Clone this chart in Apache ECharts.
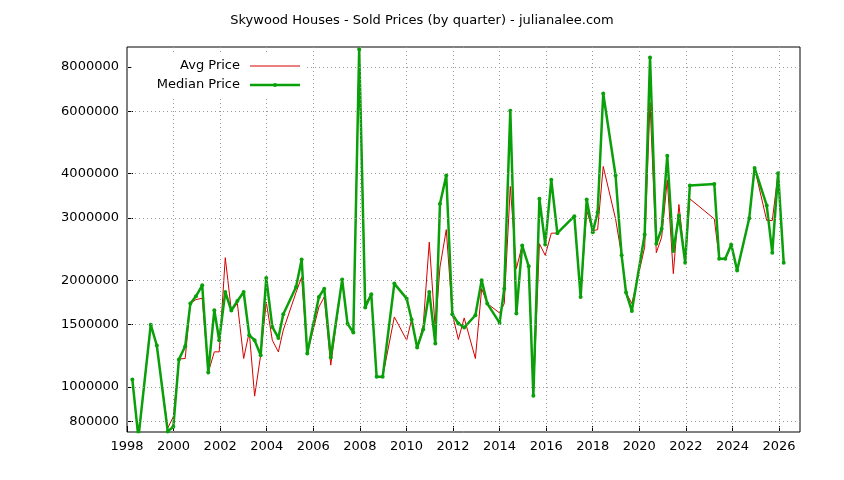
<!DOCTYPE html>
<html><head><meta charset="utf-8">
<script src="https://cdn.jsdelivr.net/npm/echarts@6/dist/echarts.min.js"></script>
<style>html,body{margin:0;padding:0;background:#fff}#c{width:844px;height:480px}</style>
</head><body><div id="c"></div>
<script>
const years = [1998.23,1998.49,1999.02,1999.28,1999.75,1999.99,2000.23,2000.50,2000.72,2000.96,
2001.23,2001.49,2001.75,2001.96,2002.22,2002.48,2002.74,2003.01,2003.25,2003.48,
2003.74,2003.98,2004.24,2004.50,2004.71,2005.26,2005.50,2005.74,2006.24,2006.47,
2006.75,2007.24,2007.47,2007.72,2007.97,2008.23,2008.49,2008.72,2008.98,2009.48,
2010.01,2010.22,2010.46,2010.72,2010.98,2011.24,2011.44,2011.71,2011.97,2012.23,
2012.48,2012.96,2013.23,2013.47,2014.00,2014.20,2014.46,2014.72,2014.97,2015.25,
2015.45,2015.71,2015.96,2016.22,2016.48,2017.21,2017.48,2017.74,2018.00,2018.21,
2018.45,2018.98,2019.24,2019.43,2019.68,2020.23,2020.46,2020.73,2020.96,2021.20,
2021.46,2021.70,2021.97,2022.17,2023.22,2023.43,2023.69,2023.95,2024.20,2024.72,
2024.95,2025.47,2025.71,2025.96,2026.20];
const medianPrice = [1050000,720000,1500000,1310000,750000,773000,1197000,1304000,1720000,1803000,
1936000,1100000,1647000,1356000,1854000,1644000,1749000,1854000,1400000,1356000,
1230000,2030000,1478000,1376000,1605000,1915000,2290000,1244000,1795000,1895000,
1212000,2010000,1509000,1425000,8970000,1676000,1827000,1069000,1069000,1958000,
1776000,1550000,1293000,1453000,1854000,1327000,3287000,3950000,1605000,1511000,
1472000,1594000,2000000,1720000,1517000,1895000,6020000,1612000,2509000,2190000,
945000,3395000,2525000,3840000,2717000,3033000,1795000,3380000,2735000,3113000,
6730000,3950000,2352000,1847000,1640000,2694000,8500000,2537000,2796000,4490000,
2418000,3047000,2243000,3700000,3740000,2302000,2302000,2525000,2133000,2994000,
4150000,3252000,2393000,4010000,2243000];
const avgPrice = [1050000,720000,1500000,1310000,767000,825000,1200000,1204000,1720000,1765000,
1780000,1100000,1257000,1257000,2317000,1644000,1720000,1204000,1431000,943000,
1230000,1738000,1356000,1257000,1447000,1850000,2040000,1244000,1682000,1795000,
1153000,2010000,1509000,1425000,8970000,1720000,1827000,1069000,1069000,1577000,
1356000,1550000,1293000,1490000,2563000,1447000,2180000,2780000,1605000,1362000,
1567000,1204000,1895000,1720000,1618000,1720000,3680000,2157000,2509000,2190000,
945000,2537000,2352000,2717000,2717000,3033000,1795000,3147000,2760000,2780000,
4190000,2980000,2352000,1847000,1720000,2480000,6350000,2393000,2648000,3840000,
2089000,3272000,2243000,3395000,2980000,2302000,2302000,2525000,2133000,2994000,
4150000,2950000,2950000,4010000,2243000];
const yTicks = [800000,1000000,1500000,2000000,3000000,4000000,6000000,8000000];
const xTicks = [1998,2000,2002,2004,2006,2008,2010,2012,2014,2016,2018,2020,2022,2024,2026];
const seriesNames = ['Avg Price','Median Price'];

const font = 'DejaVu Sans';
const RED = '#d40000', GREEN = '#0aa00a';
const chart = echarts.init(document.getElementById('c'));
chart.setOption({
  animation:false,
  backgroundColor:'#fff',
  title:{text:'Skywood Houses - Sold Prices (by quarter) - julianalee.com',left:'center',top:9,
    textStyle:{fontFamily:font,fontSize:13,fontWeight:'normal',color:'#000'}},
  grid:{left:127,right:44,top:47,bottom:48,show:true,borderColor:'#000',borderWidth:1,backgroundColor:'transparent'},
  xAxis:{type:'value',min:1998,max:2026.9,interval:2,
    axisLine:{show:false},
    axisTick:{inside:true,length:6,lineStyle:{color:'#000'},customValues:xTicks},
    axisLabel:{fontFamily:font,fontSize:13,color:'#000',margin:8,customValues:xTicks,
      formatter:v=>String(Math.round(v))},
    splitLine:{show:false}},
  yAxis:{type:'log',min:747000,max:9100000,
    axisLine:{show:false},
    axisTick:{inside:true,length:6,lineStyle:{color:'#000'},customValues:yTicks},
    axisLabel:{fontFamily:font,fontSize:13,color:'#000',margin:8,customValues:yTicks,
      formatter:v=>String(Math.round(v))},
    splitLine:{show:false}},
  graphic:[
    {type:'rect',shape:{x:132,y:52,width:175,height:46},style:{fill:'#fff'},z:50},
    {type:'text',style:{text:seriesNames[0],x:240,y:66,align:'right',verticalAlign:'middle',font:'13px '+font,fill:'#000'},z:51},
    {type:'line',shape:{x1:250,y1:66,x2:300,y2:66},style:{stroke:RED,lineWidth:1},z:51},
    {type:'text',style:{text:seriesNames[1],x:240,y:85,align:'right',verticalAlign:'middle',font:'13px '+font,fill:'#000'},z:51},
    {type:'line',shape:{x1:250,y1:85,x2:300,y2:85},style:{stroke:GREEN,lineWidth:2.5},z:51},
    {type:'circle',shape:{cx:275,cy:85,r:2},style:{fill:GREEN},z:52}
  ],
  series:[
    {name:seriesNames[0],type:'line',data:years.map((y,i)=>[y,avgPrice[i]]),
      showSymbol:false,symbol:'none',lineStyle:{color:RED,width:1},itemStyle:{color:RED},
      z:2,
      markLine:{silent:true,symbol:'none',label:{show:false},
        lineStyle:{color:'#999',type:[1,3],width:1},
        data:yTicks.map(v=>({yAxis:v})).concat(xTicks.slice(1).map(v=>({xAxis:v})))}},
    {name:seriesNames[1],type:'line',data:years.map((y,i)=>[y,medianPrice[i]]),
      symbol:'circle',symbolSize:4,lineStyle:{color:GREEN,width:2.5},itemStyle:{color:GREEN},z:3}
  ]
});
</script></body></html>
